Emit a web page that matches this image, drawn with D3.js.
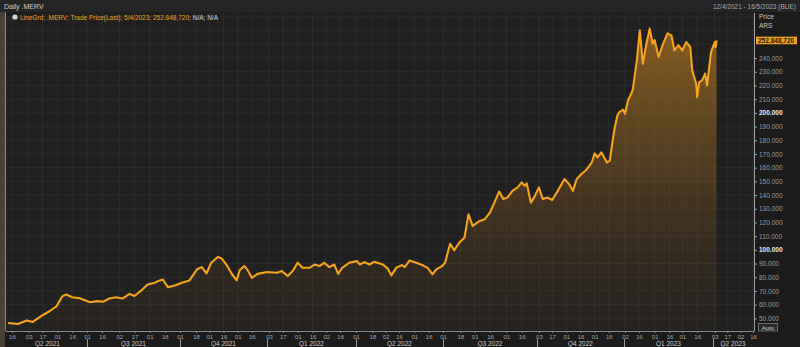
<!DOCTYPE html>
<html><head><meta charset="utf-8">
<script src="https://cdn.jsdelivr.net/npm/d3@7"></script>
<style>
body{margin:0;background:#1b1b1b;overflow:hidden}
svg{display:block}
text{font-family:"Liberation Sans",Arial,sans-serif}
</style>
</head><body>
<svg id="c" width="800" height="347"></svg>
<script>
// ---------- DATA ----------
const dates = [
"2021-04-12","2021-04-22","2021-05-01","2021-05-07","2021-05-17","2021-05-24","2021-05-31","2021-06-06","2021-06-10","2021-06-16",
"2021-06-23","2021-07-04","2021-07-11","2021-07-17","2021-07-23","2021-07-30","2021-08-05","2021-08-12","2021-08-17","2021-08-25",
"2021-08-30","2021-09-06","2021-09-11","2021-09-14","2021-09-19","2021-09-26","2021-10-03","2021-10-11","2021-10-19","2021-10-24",
"2021-10-29","2021-11-03","2021-11-10","2021-11-14","2021-11-19","2021-11-25","2021-11-30","2021-12-03","2021-12-08","2021-12-11",
"2021-12-16","2021-12-22","2022-01-01","2022-01-11","2022-01-16","2022-01-22","2022-01-27","2022-02-01","2022-02-06","2022-02-13",
"2022-02-18","2022-02-23","2022-02-28","2022-03-05","2022-03-10","2022-03-14","2022-03-18","2022-03-25","2022-04-02","2022-04-05",
"2022-04-10","2022-04-15","2022-04-20","2022-04-29","2022-05-04","2022-05-08","2022-05-13","2022-05-19","2022-05-22","2022-05-27",
"2022-06-03","2022-06-10","2022-06-15","2022-06-20","2022-06-24","2022-06-30","2022-07-03","2022-07-08","2022-07-12","2022-07-17",
"2022-07-22","2022-07-26","2022-07-30","2022-08-06","2022-08-11","2022-08-16","2022-08-21","2022-08-25","2022-08-29","2022-09-02",
"2022-09-07","2022-09-12","2022-09-16","2022-09-19","2022-09-21","2022-09-25","2022-09-29","2022-10-03","2022-10-07","2022-10-12",
"2022-10-17","2022-10-23","2022-10-30","2022-11-04","2022-11-08","2022-11-12","2022-11-17","2022-11-22","2022-11-28","2022-12-01",
"2022-12-04","2022-12-08","2022-12-14","2022-12-17","2022-12-20","2022-12-22","2022-12-25","2022-12-27","2022-12-31","2023-01-02",
"2023-01-05","2023-01-09","2023-01-10","2023-01-14","2023-01-17","2023-01-20","2023-01-24","2023-01-27","2023-01-30","2023-02-01",
"2023-02-05","2023-02-09","2023-02-14","2023-02-18","2023-02-21","2023-02-25","2023-03-01","2023-03-05","2023-03-09","2023-03-11",
"2023-03-15","2023-03-16","2023-03-18","2023-03-21","2023-03-24","2023-03-26","2023-03-30","2023-04-03","2023-04-04","2023-04-05"
];
// price in thousands of ARS
const priceK = [
46.6,45.9,48.5,47.4,52.3,55.2,58.7,66.2,67.4,65.4,
64.8,61.8,62.6,62.1,64.5,65.4,64.5,67.9,66.3,71.2,
74.7,76.0,77.7,78.4,72.8,74.0,76.0,77.7,85.8,87.4,
82.8,90.6,94.8,93.8,89.3,82.2,77.7,85.1,88.2,85.8,
79.6,82.5,83.8,83.3,84.5,80.9,84.5,90.6,86.9,86.9,
89.3,88.2,90.6,87.4,89.3,82.5,86.9,90.6,91.8,89.3,
91.1,89.3,91.3,89.3,86.5,81.4,86.9,88.9,87.4,92.3,
90.6,88.7,86.9,82.2,85.8,88.2,90.6,104.5,99.7,105.3,
108.9,126.0,117.5,121.1,122.4,127.3,135.8,142.6,137.1,138.2,
143.1,145.6,149.2,146.8,148.5,134.5,139.4,145.6,137.1,138.2,
136.4,143.1,151.7,148.0,143.1,151.7,155.4,158.3,163.8,170.5,
167.5,171.2,163.8,165.1,179.8,188.4,198.1,200.5,202.3,199.3,
209.0,215.1,217.5,238.3,260.3,235.9,251.7,261.5,250.5,253.1,
240.8,249.4,258.0,256.6,245.6,249.4,245.6,251.7,248.1,231.0,
221.2,211.5,222.5,223.7,228.6,220.1,244.4,251.7,248.1,252.849
];
const tickDates = [
"2021-04-16","2021-05-03","2021-05-17","2021-06-01","2021-06-16","2021-07-01","2021-07-16","2021-08-02","2021-08-17","2021-09-01",
"2021-09-16","2021-10-01","2021-10-18","2021-11-01","2021-11-16","2021-12-01","2021-12-16","2022-01-03","2022-01-17","2022-02-01",
"2022-02-16","2022-03-02","2022-03-16","2022-04-01","2022-04-18","2022-05-02","2022-05-16","2022-06-01","2022-06-16","2022-07-01",
"2022-07-18","2022-08-01","2022-08-16","2022-09-01","2022-09-16","2022-10-03","2022-10-17","2022-11-01","2022-11-16","2022-12-01",
"2022-12-16","2023-01-02","2023-01-16","2023-02-01","2023-02-16","2023-03-01","2023-03-16","2023-04-03","2023-04-17","2023-05-02",
"2023-05-16"
];
const quarterBounds = ["2021-04-12","2021-07-01","2021-10-01","2022-01-01","2022-04-01","2022-07-01","2022-10-01","2023-01-01","2023-04-01","2023-05-16"];
const quarterLabels = ["Q2 2021","Q3 2021","Q4 2021","Q1 2022","Q2 2022","Q3 2022","Q4 2022","Q1 2023","Q2 2023"];
const yTicks = [50,60,70,80,90,100,110,120,130,140,150,160,170,180,190,200,210,220,230,240];
const gridExtra = [250,260,270];
const boldTicks = [100,200];
const headerTitle = "Daily .MERV";
const headerRange = "12/4/2021 - 16/5/2023 (BUE)";
const legendMain = "LineGrd; .MERV; Trade Price(Last); 5/4/2023; 252.848,720";
const legendRest = "; N/A; N/A";
const lastLabel = "252.848,720";
const axisTitle = ["Price","ARS"];

// ---------- LAYOUT ----------
const W = 800, H = 347;
const plotL = 6, plotR = 754, plotT = 13, plotB = 331;
// trading-day axis: quarter boundaries placed as in the terminal chart
const quarterX = [8,87,180,267,356,443,537,624,713,753];

const parse = d3.utcParse("%Y-%m-%d");
const data = dates.map((d,i)=>({date:parse(d), v:priceK[i]}));

const x = d3.scaleUtc().domain(quarterBounds.map(parse)).range(quarterX);
const y = d3.scaleLinear().domain([41.0,272.9]).range([330.7,13]);

const loc = d3.formatLocale({decimal:",",thousands:".",grouping:[3],currency:["$",""]});
const fmt = loc.format(",.0f");

const svg = d3.select("#c");
svg.append("rect").attr("width",W).attr("height",H).attr("fill","#1c1c1c");
svg.append("rect").attr("x",0).attr("y",0).attr("width",5).attr("height",H).attr("fill","#4a4136");
svg.append("rect").attr("x",0).attr("y",0).attr("width",W).attr("height",12).attr("fill","#252525");
svg.append("text").attr("x",4).attr("y",8.5).attr("font-size",7).attr("fill","#cfcfcf").text(headerTitle);
svg.append("text").attr("x",796).attr("y",8.5).attr("text-anchor","end").attr("font-size",6.5).attr("fill","#a8a8a8").text(headerRange);

svg.append("rect").attr("x",plotL).attr("y",plotT).attr("width",plotR-plotL).attr("height",plotB-plotT).attr("fill","#202020");

const grid = svg.append("g").attr("stroke","#2f2f2f").attr("stroke-width",0.8);
grid.selectAll("line.v").data(tickDates).join("line")
  .attr("x1",d=>x(parse(d))).attr("x2",d=>x(parse(d))).attr("y1",plotT).attr("y2",plotB);
grid.selectAll("line.h").data(yTicks.concat(gridExtra)).join("line")
  .attr("x1",plotL).attr("x2",plotR).attr("y1",d=>y(d)).attr("y2",d=>y(d));

const defs = svg.append("defs");
const grad = defs.append("linearGradient").attr("id","g").attr("gradientUnits","userSpaceOnUse")
  .attr("x1",0).attr("x2",0).attr("y1",plotT).attr("y2",plotB);
grad.append("stop").attr("offset",0).attr("stop-color","#d18a22").attr("stop-opacity",0.62);
grad.append("stop").attr("offset",0.55).attr("stop-color","#a86d1e").attr("stop-opacity",0.3);
grad.append("stop").attr("offset",1).attr("stop-color","#6b4a20").attr("stop-opacity",0.06);

svg.append("path").datum(data)
  .attr("d",d3.area().x(d=>x(d.date)).y0(plotB).y1(d=>y(d.v)))
  .attr("fill","url(#g)");
svg.append("path").datum(data)
  .attr("d",d3.line().x(d=>x(d.date)).y(d=>y(d.v)))
  .attr("fill","none").attr("stroke","#f7a21b").attr("stroke-width",2.1).attr("stroke-linejoin","round");

svg.append("line").attr("x1",5.5).attr("x2",5.5).attr("y1",12).attr("y2",plotB).attr("stroke","#8a8a8a").attr("stroke-width",1);

svg.append("circle").attr("cx",15).attr("cy",17).attr("r",2.6).attr("fill","#d8d8d8");
const lg = svg.append("text").attr("x",20).attr("y",19.5).attr("font-size",6.5);
lg.append("tspan").attr("fill","#f0a020").text(legendMain);
lg.append("tspan").attr("fill","#d8d8d8").text(legendRest);

const xa = svg.append("g").attr("transform",`translate(0,${plotB})`)
  .call(d3.axisBottom(x).tickValues(tickDates.map(parse)).tickFormat(d3.utcFormat("%d")).tickSize(2).tickPadding(1.5));
xa.select(".domain").attr("stroke","#8a8a8a").attr("d",`M${plotL},0.5H${plotR}`);
xa.selectAll(".tick line").attr("stroke","#8a8a8a");
xa.selectAll(".tick text").attr("fill","#a8a8a8").attr("font-size",6).attr("font-family","Liberation Sans, Arial, sans-serif");

const qg = svg.append("g");
qg.selectAll("line").data(quarterBounds.slice(1,-1)).join("line")
  .attr("x1",d=>x(parse(d))+0.5).attr("x2",d=>x(parse(d))+0.5).attr("y1",339).attr("y2",347)
  .attr("stroke","#9a9a9a").attr("stroke-width",1);
qg.selectAll("text").data(quarterLabels).join("text")
  .attr("x",(d,i)=>(x(parse(quarterBounds[i]))+x(parse(quarterBounds[i+1])))/2)
  .attr("y",345.5).attr("text-anchor","middle").attr("font-size",6.5).attr("fill","#c8c8c8").text(d=>d);

const ya = svg.append("g").attr("transform",`translate(${plotR},0)`)
  .call(d3.axisRight(y).tickValues(yTicks).tickFormat(v=>fmt(v*1000)).tickSize(3).tickPadding(2));
ya.select(".domain").attr("stroke","#a0a0a0").attr("d",`M0.5,${plotT}V${plotB+0.5}`);
ya.selectAll(".tick line").attr("stroke","#a0a0a0");
ya.selectAll(".tick text").attr("font-size",6.5).attr("font-family","Liberation Sans, Arial, sans-serif")
  .attr("fill",d=>boldTicks.includes(d)?"#ececec":"#9c9c9c")
  .attr("font-weight",d=>boldTicks.includes(d)?"bold":"normal");

svg.append("text").attr("x",759).attr("y",18.5).attr("font-size",6.5).attr("fill","#c8c8c8").text(axisTitle[0]);
svg.append("text").attr("x",759).attr("y",28).attr("font-size",6.5).attr("fill","#c8c8c8").text(axisTitle[1]);

const ly = y(priceK[priceK.length-1]);
svg.append("rect").attr("x",plotR+2).attr("y",ly-3.8).attr("width",41).attr("height",7.6).attr("fill","#f0a020");
svg.append("text").attr("x",plotR+4).attr("y",ly+2.4).attr("font-size",6.5).attr("font-weight","bold").attr("fill","#2a1a00").text(lastLabel);

svg.append("rect").attr("x",758.5).attr("y",323.5).attr("width",19).attr("height",7.5).attr("fill","#2a2a2a").attr("stroke","#8a8a8a").attr("stroke-width",0.7);
svg.append("text").attr("x",768).attr("y",329.7).attr("text-anchor","middle").attr("font-size",6).attr("fill","#d0d0d0").text("Auto");
</script>
</body></html>
